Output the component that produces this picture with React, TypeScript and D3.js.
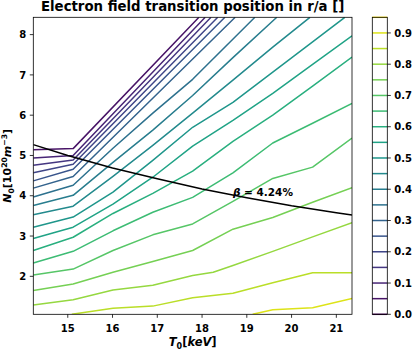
import React from 'react';
import * as d3 from 'd3';

// contour levels of r/a (line contours, 0.0 .. 0.95)
const levels = [0, 0.05, 0.1, 0.15, 0.2, 0.25, 0.3, 0.35, 0.4, 0.45, 0.5, 0.55, 0.6, 0.65, 0.7, 0.75, 0.8, 0.85, 0.9, 0.95];
const cbTicks = [0, 0.1, 0.2, 0.3, 0.4, 0.5, 0.6, 0.7, 0.8, 0.9];
const xTicks = [15, 16, 17, 18, 19, 20, 21];
const yTicks = [2, 3, 4, 5, 6, 7, 8];

// contour paths, [T0 keV, N0 1e20 m^-3]
const c005 = [[14.23, 5.14], [15.12, 5.17], [17.93, 8.43]];
const c010 = [[14.23, 4.94], [15.12, 5.0], [18.07, 8.43]];
const c015 = [[14.23, 4.76], [15.12, 4.89], [18.2, 8.43]];
const c020 = [[14.23, 4.57], [15.12, 4.78], [18.35, 8.43]];
const c025 = [[14.23, 4.37], [15.12, 4.66], [18.51, 8.43]];
const c030 = [[14.23, 4.19], [15.12, 4.48], [18.74, 8.43]];
const c035 = [[14.23, 3.97], [15.12, 4.26], [16.01, 5.18], [16.9, 6.05], [17.79, 6.89], [19.18, 8.43]];
const c040 = [[14.23, 3.76], [15.12, 4.01], [16.01, 4.83], [16.9, 5.63], [17.79, 6.49], [18.69, 7.43], [19.67, 8.43]];
const c045 = [[14.23, 3.53], [15.12, 3.74], [16.01, 4.48], [16.9, 5.25], [17.79, 6.05], [18.69, 6.87], [19.58, 7.69], [20.41, 8.43]];
const c050 = [[14.23, 3.22], [15.12, 3.47], [16.01, 4.09], [16.9, 4.88], [17.79, 5.7], [18.69, 6.32], [19.58, 7.07], [20.47, 7.82], [21.19, 8.43]];
const c055 = [[14.23, 2.94], [15.12, 3.22], [16.01, 3.79], [16.9, 4.46], [17.79, 5.23], [18.69, 5.87], [19.58, 6.54], [20.47, 7.26], [21.35, 7.97]];
const c060 = [[14.23, 2.64], [15.12, 2.97], [16.01, 3.56], [16.9, 4.06], [17.79, 4.61], [18.69, 5.35], [19.58, 6.0], [20.47, 6.72], [21.35, 7.44]];
const c065 = [[14.23, 2.33], [15.12, 2.62], [16.01, 3.13], [16.9, 3.59], [17.79, 3.96], [18.69, 4.57], [19.58, 5.31], [20.47, 5.8], [21.35, 6.29]];
const c070 = [[14.23, 2.03], [15.12, 2.18], [16.01, 2.64], [16.9, 3.03], [17.79, 3.3], [18.69, 3.86], [19.58, 4.43], [20.47, 4.71], [21.35, 5.43]];
const c075 = [[14.23, 1.65], [15.12, 1.81], [16.01, 2.1], [16.9, 2.37], [17.79, 2.64], [18.69, 3.17], [19.58, 3.46], [20.47, 3.84], [21.35, 4.2]];
const c080 = [[14.23, 1.29], [15.12, 1.42], [16.01, 1.66], [16.9, 1.78], [17.79, 2.02], [18.25, 2.1], [18.69, 2.27], [19.58, 2.62], [20.47, 2.98], [21.35, 3.33]];
const c085 = [[15.09, 1.06], [16.01, 1.21], [16.9, 1.26], [17.79, 1.47], [18.69, 1.58], [19.58, 1.84], [20.47, 2.09], [21.35, 2.09]];
const c090 = [[19.13, 1.06], [19.58, 1.17], [20.47, 1.22], [21.35, 1.45]];

const contours = [
  { level: 0.05, pts: c005 }, { level: 0.1, pts: c010 }, { level: 0.15, pts: c015 },
  { level: 0.2, pts: c020 }, { level: 0.25, pts: c025 }, { level: 0.3, pts: c030 },
  { level: 0.35, pts: c035 }, { level: 0.4, pts: c040 }, { level: 0.45, pts: c045 },
  { level: 0.5, pts: c050 }, { level: 0.55, pts: c055 }, { level: 0.6, pts: c060 },
  { level: 0.65, pts: c065 }, { level: 0.7, pts: c070 }, { level: 0.75, pts: c075 },
  { level: 0.8, pts: c080 }, { level: 0.85, pts: c085 }, { level: 0.9, pts: c090 },
];

// beta = 4.24% line
const betaT = [14.23, 15, 16, 17, 18, 19, 20, 21, 21.35];
const betaN = [5.27, 5.0, 4.69, 4.42, 4.17, 3.95, 3.75, 3.58, 3.52];
const betaLabel = '4.24%';

const FONT = 'DejaVu Sans';

export default function App() {
  const left = 33.3, right = 352, top = 17.3, bottom = 314.3;
  const x = d3.scaleLinear().domain([14.23, 21.35]).range([left, right]);
  const y = d3.scaleLinear().domain([1.057, 8.43]).range([bottom, top]);
  const cbL = 372.3, cbR = 387.3;
  const cy = d3.scaleLinear().domain([0, 0.95]).range([bottom, top]);
  const color = (v: number) => d3.interpolateViridis(v / 0.95);

  const line = d3.line<number[]>().x(d => x(d[0])).y(d => y(d[1]));
  const betaPts = betaT.map((t, i) => [t, betaN[i]]);

  return (
    <svg width={415} height={349} style={{ position: 'absolute', left: 0, top: 0, background: '#fff' }}
      fontFamily={FONT} fontWeight="bold">
      <defs>
        <clipPath id="plotclip">
          <rect x={left} y={top} width={right - left} height={bottom - top} />
        </clipPath>
      </defs>

      <text x={(left + right) / 2} y={10.5} textAnchor="middle" fontSize={13.3}>
        Electron field transition position in r/a []
      </text>

      <g clipPath="url(#plotclip)">
        {contours.map(c => (
          <path key={c.level} d={line(c.pts) || ''} fill="none" stroke={color(c.level)}
            strokeWidth={1.5} strokeLinejoin="round" />
        ))}
        <path d={line(betaPts) || ''} fill="none" stroke="#000" strokeWidth={1.5} />
      </g>

      <text x={x(19.36)} y={y(3.99)} textAnchor="middle" fontSize={10.5}>
        <tspan fontStyle="italic">β</tspan> = {betaLabel}
      </text>

      <rect x={left} y={top} width={right - left} height={bottom - top} fill="none" stroke="#000" strokeWidth={0.8} />

      {xTicks.map(t => (
        <g key={t} transform={`translate(${x(t)},${bottom})`}>
          <line y2={3.5} stroke="#000" strokeWidth={0.8} />
          <text y={17.5} textAnchor="middle" fontSize={10}>{t}</text>
        </g>
      ))}
      {yTicks.map(t => (
        <g key={t} transform={`translate(${left},${y(t)})`}>
          <line x2={-3.5} stroke="#000" strokeWidth={0.8} />
          <text x={-7} dy="0.36em" textAnchor="end" fontSize={10}>{t}</text>
        </g>
      ))}

      <text x={(left + right) / 2} y={346} textAnchor="middle" fontSize={11.5}>
        <tspan fontStyle="italic">T</tspan>
        <tspan fontSize={8} dy={2.5}>0</tspan>
        <tspan dy={-2.5}>[</tspan>
        <tspan fontStyle="italic">keV</tspan>
        <tspan>]</tspan>
      </text>

      <text transform={`translate(11,${(top + bottom) / 2}) rotate(-90)`} textAnchor="middle" fontSize={11}>
        <tspan fontStyle="italic">N</tspan>
        <tspan fontSize={7.7} dy={2.5}>0</tspan>
        <tspan dy={-2.5}>[10</tspan>
        <tspan fontSize={7.7} dy={-4.5}>20</tspan>
        <tspan fontStyle="italic" dy={4.5}>m</tspan>
        <tspan fontSize={7.7} dy={-4.5}>−3</tspan>
        <tspan dy={4.5}>]</tspan>
      </text>

      {/* colorbar */}
      {levels.map(l => (
        <line key={l} x1={cbL} x2={cbR} y1={cy(l)} y2={cy(l)} stroke={color(l)} strokeWidth={1.5} />
      ))}
      <rect x={cbL} y={top} width={cbR - cbL} height={bottom - top} fill="none" stroke="#000" strokeWidth={0.8} />
      {cbTicks.map(t => (
        <g key={t} transform={`translate(${cbR},${cy(t)})`}>
          <line x2={3.5} stroke="#000" strokeWidth={0.8} />
          <text x={7} dy="0.36em" fontSize={10}>{t.toFixed(1)}</text>
        </g>
      ))}
    </svg>
  );
}
